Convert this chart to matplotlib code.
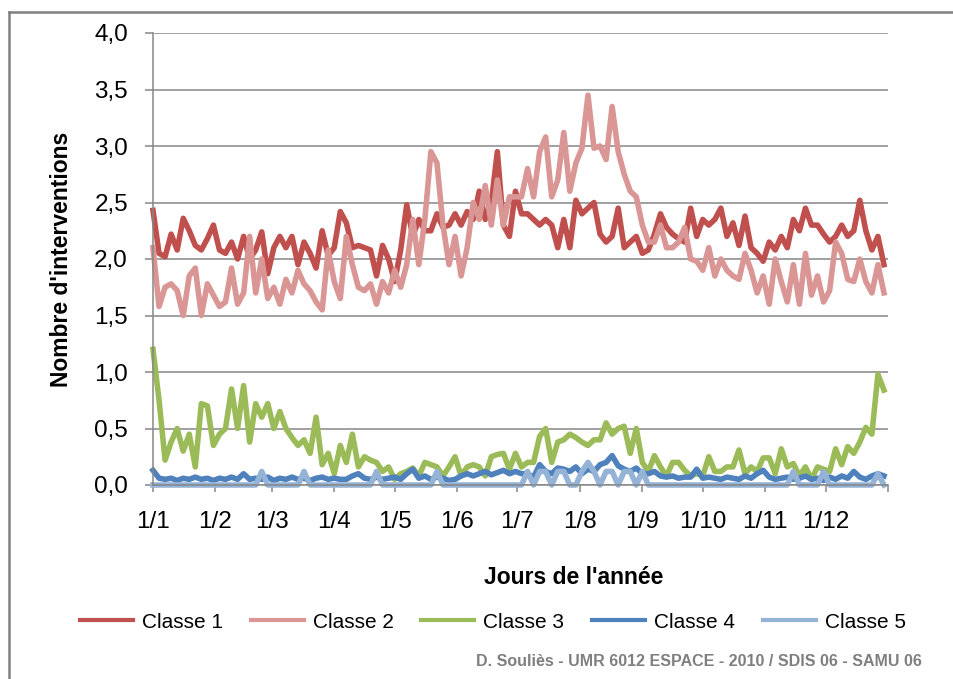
# imports
import numpy as np
import matplotlib
matplotlib.use("Agg")
from matplotlib import pyplot as plt
from matplotlib import font_manager
from matplotlib.lines import Line2D

# daily means read every 3rd day (day 0 = 1 January)
days = np.arange(0, 366, 3)

month_days = [0, 31, 59, 90, 120, 151, 181, 212, 243, 273, 304, 334]
month_labels = ["1/1", "1/2", "1/3", "1/4", "1/5", "1/6",
                "1/7", "1/8", "1/9", "1/10", "1/11", "1/12"]

classe1 = [2.43, 2.05, 2.02, 2.22, 2.08, 2.36, 2.25, 2.12, 2.08, 2.18, 2.30, 2.08, 2.05, 2.15, 2.00, 2.20,
           2.00, 2.08, 2.24, 1.87, 2.10, 2.20, 2.10, 2.20, 1.95, 2.15, 2.05, 1.92, 2.25, 2.03, 2.10,
           2.42, 2.32, 2.10, 2.12, 2.10, 2.08, 1.85, 2.12, 2.00, 1.80, 2.08, 2.48, 2.20, 2.35, 2.25, 2.25,
           2.40, 2.28, 2.30, 2.40, 2.30, 2.42, 2.35, 2.60, 2.35, 2.50, 2.95, 2.30, 2.20, 2.60, 2.40,
           2.40, 2.35, 2.30, 2.35, 2.30, 2.10, 2.35, 2.10, 2.52, 2.40, 2.45, 2.50, 2.22, 2.15, 2.20, 2.45,
           2.10, 2.15, 2.20, 2.05, 2.08, 2.22, 2.40, 2.28, 2.22, 2.18, 2.15, 2.45, 2.20, 2.35, 2.30,
           2.35, 2.45, 2.20, 2.32, 2.12, 2.38, 2.10, 2.05, 1.98, 2.15, 2.08, 2.20, 2.10, 2.35, 2.25,
           2.45, 2.30, 2.30, 2.22, 2.15, 2.20, 2.30, 2.20, 2.25, 2.52, 2.25, 2.08, 2.20, 1.95]

classe2 = [2.10, 1.58, 1.75, 1.78, 1.72, 1.50, 1.85, 1.92, 1.50, 1.78, 1.68, 1.58, 1.62, 1.92, 1.60, 1.70,
           2.20, 1.70, 2.00, 1.65, 1.75, 1.60, 1.82, 1.70, 1.90, 1.78, 1.72, 1.62, 1.55, 2.08, 1.80,
           1.65, 2.20, 1.95, 1.75, 1.72, 1.78, 1.60, 1.80, 1.70, 1.90, 1.75, 1.95, 2.35, 1.95, 2.35, 2.95,
           2.85, 2.30, 1.95, 2.20, 1.85, 2.10, 2.50, 2.35, 2.65, 2.30, 2.70, 2.30, 2.55, 2.55, 2.55,
           2.80, 2.55, 2.95, 3.08, 2.55, 2.70, 3.12, 2.60, 2.85, 2.98, 3.45, 2.98, 3.00, 2.88, 3.35, 2.95,
           2.75, 2.60, 2.55, 2.30, 2.15, 2.15, 2.30, 2.10, 2.10, 2.15, 2.28, 2.00, 1.98, 1.90, 2.10,
           1.85, 2.00, 1.90, 1.85, 1.82, 2.05, 1.90, 1.70, 1.85, 1.60, 2.00, 1.80, 1.62, 1.95, 1.60,
           2.05, 1.68, 1.85, 1.62, 1.72, 2.15, 2.05, 1.82, 1.80, 2.00, 1.80, 1.70, 1.95, 1.70]

classe3 = [1.20, 0.75, 0.22, 0.38, 0.50, 0.30, 0.45, 0.16, 0.72, 0.70, 0.35, 0.45, 0.50, 0.85, 0.50, 0.88,
           0.38, 0.72, 0.60, 0.72, 0.50, 0.65, 0.50, 0.42, 0.35, 0.40, 0.28, 0.60, 0.18, 0.28, 0.10,
           0.35, 0.20, 0.45, 0.16, 0.25, 0.22, 0.20, 0.12, 0.16, 0.05, 0.10, 0.12, 0.15, 0.08, 0.20, 0.18,
           0.16, 0.08, 0.16, 0.25, 0.08, 0.16, 0.18, 0.16, 0.08, 0.25, 0.27, 0.28, 0.14, 0.28, 0.16,
           0.20, 0.20, 0.43, 0.50, 0.20, 0.38, 0.40, 0.45, 0.42, 0.38, 0.35, 0.40, 0.40, 0.55, 0.45, 0.50,
           0.52, 0.28, 0.50, 0.20, 0.12, 0.26, 0.16, 0.08, 0.20, 0.20, 0.13, 0.08, 0.10, 0.08, 0.25,
           0.12, 0.12, 0.16, 0.16, 0.31, 0.10, 0.16, 0.12, 0.24, 0.24, 0.10, 0.32, 0.16, 0.19, 0.08,
           0.16, 0.05, 0.16, 0.14, 0.12, 0.32, 0.18, 0.34, 0.28, 0.38, 0.51, 0.45, 0.98, 0.84]

classe4 = [0.13, 0.06, 0.05, 0.06, 0.04, 0.06, 0.05, 0.07, 0.05, 0.06, 0.04, 0.06, 0.05, 0.07, 0.05, 0.10,
           0.05, 0.06, 0.05, 0.07, 0.04, 0.06, 0.05, 0.07, 0.05, 0.06, 0.04, 0.06, 0.07, 0.05, 0.06,
           0.05, 0.05, 0.08, 0.10, 0.06, 0.05, 0.07, 0.05, 0.06, 0.07, 0.05, 0.10, 0.14, 0.06, 0.08, 0.05,
           0.07, 0.06, 0.04, 0.05, 0.08, 0.10, 0.08, 0.10, 0.12, 0.09, 0.11, 0.13, 0.10, 0.12, 0.10,
           0.10, 0.07, 0.18, 0.12, 0.10, 0.15, 0.14, 0.12, 0.16, 0.10, 0.14, 0.12, 0.18, 0.20, 0.26, 0.17,
           0.14, 0.12, 0.15, 0.10, 0.10, 0.12, 0.08, 0.07, 0.08, 0.06, 0.07, 0.07, 0.14, 0.06, 0.07,
           0.06, 0.05, 0.07, 0.06, 0.05, 0.08, 0.06, 0.10, 0.13, 0.07, 0.05, 0.06, 0.07, 0.05, 0.06,
           0.08, 0.05, 0.06, 0.04, 0.07, 0.05, 0.08, 0.06, 0.12, 0.07, 0.05, 0.08, 0.10, 0.08]

classe5 = [0.00, 0.00, 0.00, 0.00, 0.00, 0.00, 0.00, 0.00, 0.00, 0.00, 0.00, 0.00, 0.00, 0.00, 0.00, 0.00,
           0.00, 0.00, 0.12, 0.00, 0.00, 0.00, 0.00, 0.00, 0.00, 0.12, 0.00, 0.00, 0.00, 0.00, 0.00,
           0.00, 0.00, 0.00, 0.00, 0.00, 0.00, 0.12, 0.00, 0.00, 0.00, 0.00, 0.00, 0.00, 0.00, 0.00, 0.00,
           0.12, 0.00, 0.00, 0.00, 0.00, 0.00, 0.00, 0.00, 0.00, 0.00, 0.00, 0.00, 0.00, 0.00, 0.00,
           0.12, 0.00, 0.12, 0.12, 0.00, 0.12, 0.12, 0.00, 0.00, 0.12, 0.20, 0.12, 0.00, 0.12, 0.12, 0.00,
           0.12, 0.12, 0.00, 0.12, 0.00, 0.00, 0.00, 0.00, 0.00, 0.00, 0.00, 0.00, 0.00, 0.00, 0.00,
           0.00, 0.00, 0.00, 0.00, 0.00, 0.00, 0.00, 0.00, 0.00, 0.00, 0.00, 0.00, 0.00, 0.12, 0.00,
           0.00, 0.00, 0.00, 0.12, 0.00, 0.00, 0.00, 0.00, 0.00, 0.00, 0.00, 0.00, 0.10, 0.00]

series = ["Classe 1", "Classe 2", "Classe 3", "Classe 4", "Classe 5"]
colors = ["#C0504D", "#D99694", "#9BBB59", "#4F81BD", "#95B3D7"]

# fonts
installed = {f.name for f in font_manager.fontManager.ttflist}
has_narrow = "Liberation Sans Narrow" in installed
plt.rcParams["font.family"] = ["Liberation Sans", "DejaVu Sans"]
if has_narrow:
    small_family = ["Liberation Sans Narrow", "Liberation Sans"]
    legend_size, credit_size = 18, 14
else:
    small_family = ["Liberation Sans", "DejaVu Sans"]
    legend_size, credit_size = 15, 11.5

W, H = 954, 679
fig = plt.figure(figsize=(W / 100, H / 100), dpi=100)
ax = fig.add_axes([153 / W, 1 - 485 / H, (888 - 153) / W, (485 - 33) / H])

grey = "#868686"
for values, name, color in zip([classe1, classe2, classe3, classe4, classe5], series, colors):
    ax.plot(days, values, color=color, lw=4, label=name, clip_on=False,
            solid_joinstyle="round")

ax.set_xlim(0, 365)
ax.set_ylim(0, 4)
ax.set_yticks(np.arange(0, 4.01, 0.5))
ax.set_yticklabels([f"{v:.1f}".replace(".", ",") for v in np.arange(0, 4.01, 0.5)])
ax.set_xticks(month_days + [365])
ax.set_xticklabels(month_labels + [""])

ax.grid(axis="y", color=grey, lw=1.1)
ax.set_axisbelow(True)
for side in ["top", "right"]:
    ax.spines[side].set_visible(False)
for side in ["left", "bottom"]:
    ax.spines[side].set_color(grey)
    ax.spines[side].set_linewidth(1.1)
ax.tick_params(axis="y", direction="out", length=6, width=1.1, color=grey,
               pad=12, labelsize=17.5)
ax.tick_params(axis="x", direction="out", length=5, width=1.1, color=grey,
               pad=14, labelsize=17.5)

ax.set_ylabel("Nombre d'interventions", fontsize=16.5, fontweight="bold",
              va="center", ha="center")
ax.yaxis.set_label_coords((62 - 153) / 735, 0.5)
ax.set_xlabel("Jours de l'année", fontsize=16.5, fontweight="bold", va="center")
ax.xaxis.set_label_coords((574 - 153) / 735, (485 - 577) / 452)

px = legend_size * 100 / 72
leg = fig.legend(loc="center", bbox_to_anchor=(493 / W, 1 - 622 / H), ncol=5, frameon=False,
                 prop={"family": small_family, "size": legend_size},
                 handlelength=53 / px, handletextpad=9 / px, columnspacing=28 / px)
for line in leg.get_lines():
    line.set_linewidth(3)

fig.text(922 / W, 1 - 662 / H, "D. Souliès - UMR 6012 ESPACE - 2010 / SDIS 06 - SAMU 06",
         ha="right", va="center", color="#7F7F7F", fontweight="bold",
         family=small_family, fontsize=credit_size)

# outer frame of the chart
fig.add_artist(Line2D([9 / W, 9 / W], [0, 1 - 12 / H], transform=fig.transFigure,
                      color="#808080", lw=1.8))
fig.add_artist(Line2D([9 / W, 1], [1 - 12 / H, 1 - 12 / H], transform=fig.transFigure,
                      color="#808080", lw=1.8))

fig.savefig("out.png", dpi=100)
